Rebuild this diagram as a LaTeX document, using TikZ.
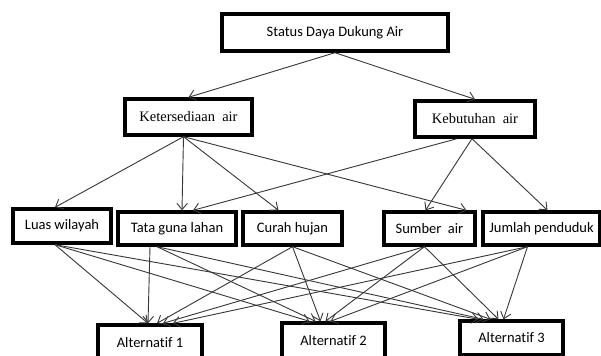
\documentclass[tikz,border=0pt]{standalone}
\usepackage{fontspec}
\setmainfont{Carlito}[Ligatures=CommonOff]
\newfontfamily\timesfont{Liberation Serif}
\usetikzlibrary{arrows.meta}
\tikzset{
  crit/.style={draw, line width=2.4pt, inner sep=0pt, font=\fontsize{10.3}{12}\selectfont},
  link/.style={-{Straight Barb[length=4.5pt,width=7.5pt]}, line width=0.65pt, draw=black!78},
}
\begin{document}
\begin{tikzpicture}[x=0.025cm, y=-0.025cm]
      \useasboundingbox (0,0) rectangle (601,356);
      \draw
        (335,32.5) node[crit, minimum width=5.65cm, minimum height=0.925cm] (status){Status Daya Dukung\ Air}
        (188.5,117) node[crit, minimum width=3.175cm, minimum height=0.9cm, font=\timesfont\fontsize{10.3}{12}\selectfont] (ketersediaan){Ketersediaan\ \ air}
        (475,119) node[crit, minimum width=3cm, minimum height=0.9cm, font=\timesfont\fontsize{10.3}{12}\selectfont] (kebutuhan){Kebutuhan\ \ air}
        (62,226) node[crit, minimum width=2.45cm, minimum height=0.85cm] (luas){Luas wilayah}
        (177,228.5) node[crit, minimum width=2.95cm, minimum height=0.825cm] (tata){Tata guna lahan}
        (292.5,228.5) node[crit, minimum width=2.475cm, minimum height=0.825cm] (curah){Curah hujan}
        (429.5,228.5) node[crit, minimum width=2.275cm, minimum height=0.825cm] (sumber){Sumber\ \ air}
        (541.5,228.5) node[crit, minimum width=2.925cm, minimum height=0.825cm] (jumlah){Jumlah\ penduduk}
        (150,343) node[crit, minimum width=2.6cm, minimum height=0.9cm] (alt1){Alternatif 1}
        (333.5,341) node[crit, minimum width=2.575cm, minimum height=0.9cm] (alt2){Alternatif 2}
        (511.5,338) node[crit, minimum width=2.575cm, minimum height=0.85cm] (alt3){Alternatif 3};
      \begin{scope}[link]
        \draw (status.south) to (ketersediaan.north);
        \draw (status.south) to (kebutuhan.north);
        \draw ([shift={(-5,0)}]ketersediaan.south) to ([shift={(-7,0)}]luas.north);
        \draw ([shift={(-5,0)}]ketersediaan.south) to ([shift={(5,0)}]tata.north);
        \draw ([shift={(-5,0)}]ketersediaan.south) to ([shift={(-14,0)}]curah.north);
        \draw ([shift={(-5,0)}]ketersediaan.south) to ([shift={(37,0)}]sumber.north);
        \draw ([shift={(-18,0)}]kebutuhan.south) to ([shift={(16,0)}]tata.north);
        \draw ([shift={(-3,0)}]kebutuhan.south) to ([shift={(-4,0)}]sumber.north);
        \draw ([shift={(-3,0)}]kebutuhan.south) to ([shift={(6,0)}]jumlah.north);
        \draw ([shift={(-7,0)}]luas.south) to ([shift={(-2,0)}]alt1.north);
        \draw ([shift={(-7,0)}]luas.south) to ([shift={(-24,0)}]alt2.north);
        \draw ([shift={(-7,0)}]luas.south) to ([shift={(-33,0)}]alt3.north);
        \draw ([shift={(-27,0)}]tata.south) to ([shift={(-2,0)}]alt1.north);
        \draw ([shift={(-20,0)}]tata.south) to ([shift={(-18,0)}]alt2.north);
        \draw ([shift={(-20,0)}]tata.south) to ([shift={(-28,0)}]alt3.north);
        \draw (curah.south) to ([shift={(7,0)}]alt1.north);
        \draw (curah.south) to ([shift={(-13,0)}]alt2.north);
        \draw (curah.south) to ([shift={(-21,0)}]alt3.north);
        \draw ([shift={(-5,0)}]sumber.south) to ([shift={(13,0)}]alt1.north);
        \draw ([shift={(-5,0)}]sumber.south) to ([shift={(-8,0)}]alt2.north);
        \draw ([shift={(-5,0)}]sumber.south) to ([shift={(-13,0)}]alt3.north);
        \draw ([shift={(-14,0)}]jumlah.south) to ([shift={(23,0)}]alt1.north);
        \draw ([shift={(-14,0)}]jumlah.south) to ([shift={(-3,0)}]alt2.north);
        \draw ([shift={(-14,0)}]jumlah.south) to ([shift={(-8,0)}]alt3.north);
      \end{scope}
    \end{tikzpicture}
\end{document}
